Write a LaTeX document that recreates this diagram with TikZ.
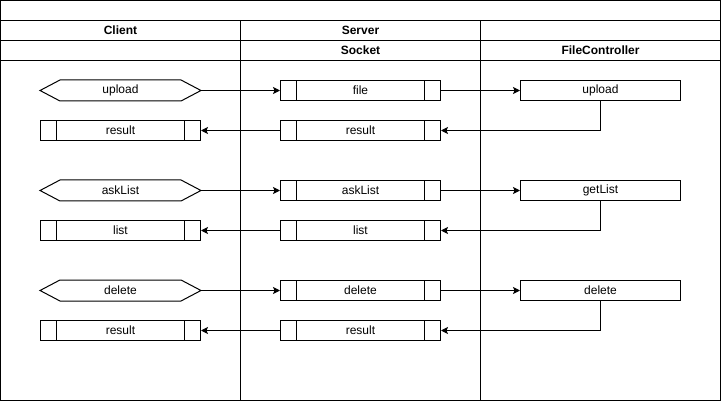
\documentclass[tikz,border=0pt]{standalone}
\usepackage{fontspec}
\setmainfont{Liberation Sans}
\usetikzlibrary{arrows.meta,calc}
\begin{document}
\begin{tikzpicture}[x=1pt,y=-1pt,line width=1pt,
  lbl/.style={font=\fontsize{12}{14}\selectfont},
  hdr/.style={font=\fontsize{12}{14}\selectfont\bfseries},
  base/.style={minimum width=160pt,minimum height=20pt,inner sep=0pt,lbl},
  procbox/.style={base,draw,path picture={
      \draw ([xshift=16pt]path picture bounding box.north west) -- ([xshift=16pt]path picture bounding box.south west);
      \draw ([xshift=-16pt]path picture bounding box.north east) -- ([xshift=-16pt]path picture bounding box.south east);}},
  plainbox/.style={base,draw},
  hexbox/.style={base,append after command={
      \pgfextra{\draw (\tikzlastnode.west) -- ([xshift=20pt]\tikzlastnode.north west) -- ([xshift=-20pt]\tikzlastnode.north east) -- (\tikzlastnode.east) -- ([xshift=-20pt]\tikzlastnode.south east) -- ([xshift=20pt]\tikzlastnode.south west) -- cycle;}}},
  arr/.style={-{Stealth[length=7pt,width=7pt,inset=1.5pt]}}]
\useasboundingbox (0,0) rectangle (721,401);
% frame
\draw (0.5,0.5) rectangle (720.5,400.5);
\draw (0.5,20.5) -- (720.5,20.5);
\draw (0.5,40.5) -- (720.5,40.5);
\draw (0.5,60.5) -- (720.5,60.5);
\draw (240.5,20.5) -- (240.5,400.5);
\draw (480.5,20.5) -- (480.5,400.5);
\node[hdr] (hclient) at (120.5,30.5) {Client};
\node[hdr] (hserver) at (360.5,30.5) {Server};
\node[hdr] (hsocket) at (360.5,50.5) {Socket};
\node[hdr] (hfc) at (600.5,50.5) {FileController};
% row 1
\node[hexbox] (h1) at (120.5,90.5) {upload};
\node[procbox] (s1) at (360.5,90.5) {file};
\node[plainbox] (f1) at (600.5,90.5) {upload};
\node[procbox] (c1r) at (120.5,130.5) {result};
\node[procbox] (s1r) at (360.5,130.5) {result};
% row 2
\node[hexbox] (h2) at (120.5,190.5) {askList};
\node[procbox] (s2) at (360.5,190.5) {askList};
\node[plainbox] (f2) at (600.5,190.5) {getList};
\node[procbox] (c2r) at (120.5,230.5) {list};
\node[procbox] (s2r) at (360.5,230.5) {list};
% row 3
\node[hexbox] (h3) at (120.5,290.5) {delete};
\node[procbox] (s3) at (360.5,290.5) {delete};
\node[plainbox] (f3) at (600.5,290.5) {delete};
\node[procbox] (c3r) at (120.5,330.5) {result};
\node[procbox] (s3r) at (360.5,330.5) {result};
% connectors
\foreach \i in {1,2,3}{
  \draw[arr] (h\i.east) -- (s\i.west);
  \draw[arr] (s\i.east) -- (f\i.west);
  \draw[arr] (f\i.south) |- (s\i r.east);
  \draw[arr] (s\i r.west) -- (c\i r.east);
}
\end{tikzpicture}
\end{document}
